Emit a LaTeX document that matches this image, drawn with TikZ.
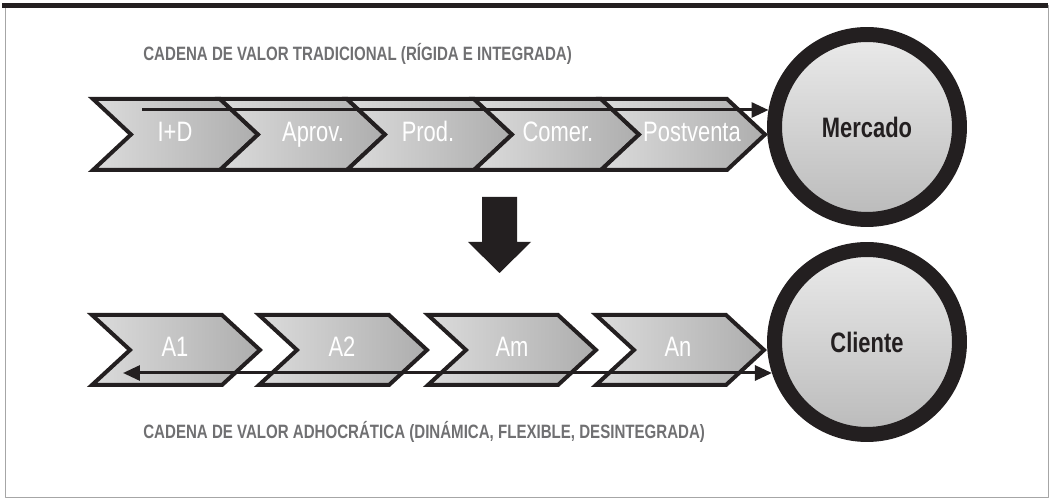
\documentclass[tikz,border=0pt]{standalone}
\usepackage{fontspec}
\setmainfont{Liberation Sans}
\newfontfamily\narrowfont{Liberation Sans}[FakeStretch=0.78]
\usetikzlibrary{arrows.meta}
\definecolor{ink}{RGB}{35,31,32}
\definecolor{titlegray}{RGB}{112,112,114}
\tikzset{
  chev/.style={draw=ink, line width=0.08cm, line join=miter, left color=gray!28, right color=gray!64},
  chevlabel/.style={text=white, font=\narrowfont\fontsize{16}{18}\selectfont, inner sep=0pt, anchor=base},
  market/.style={circle, draw=ink, line width=0.3cm, minimum size=3.7cm, inner sep=0pt,
    top color=gray!16, bottom color=gray!54, text=ink, font=\narrowfont\bfseries\fontsize{16}{18}\selectfont},
  flowtip/.tip={Triangle[length=0.34cm, width=0.3cm]},
  flow/.style={draw=ink, line width=0.06cm},
  heading/.style={text=titlegray, font=\narrowfont\bfseries\fontsize{11}{13}\selectfont, inner sep=0pt, anchor=base west}
}
\begin{document}
\begin{tikzpicture}[x=0.02cm, y=-0.02cm, line join=round]
  \useasboundingbox (0,0) rectangle (1052,499);
  \draw[gray!70, line width=0.4pt] (5,5) rectangle (1048,497);
  \draw[ink, line width=0.11cm] (2,5.5) -- (1048,5.5);
  \node[heading] (ttop) at (143,60.5) {CADENA DE VALOR TRADICIONAL (RÍGIDA E INTEGRADA)};
  \node[heading] (tbot) at (143,439) {CADENA DE VALOR ADHOCRÁTICA (DINÁMICA, FLEXIBLE, DESINTEGRADA)};
  \foreach \l/\r in {93/220,220/347,347/474,474/601,601/727}
    \path[chev] (\l,99) -- (\r,99) -- ++(38,35.5) -- (\r,170) -- (\l,170) -- ++(38,-35.5) -- cycle;
  \foreach \x/\t [count=\i] in {175/I+D,313/Aprov.,428/Prod.,558/Comer.,692/Postventa}
    \node[chevlabel] (c\i) at (\x,141.5) {\t};
  \foreach \l in {92,259,428,596}
    \path[chev] (\l,315) -- ++(130,0) -- ++(38,35) -- ++(-38,35) -- ++(-130,0) -- ++(38,-35) -- cycle;
  \foreach \x/\t in {175/A1,342/A2,512/Am,678/An}
    \node[chevlabel] (\t) at (\x,356.5) {\t};
  \node[market] (mercado) at (867,127) {Mercado};
  \node[market] (cliente) at (867,342) {Cliente};
  \coordinate (topstart) at (142,110);
  \coordinate (botstart) at (123,373);
  \draw[flow, -flowtip] (topstart) -- (topstart -| mercado.170);
  \draw[flow, flowtip-flowtip] (botstart) -- (botstart -| cliente.198);
  \fill[ink] (482,197) -- (517,197) -- (517,242) -- (531,242) -- (499.5,273) -- (468,242) -- (482,242) -- cycle;
\end{tikzpicture}
\end{document}
